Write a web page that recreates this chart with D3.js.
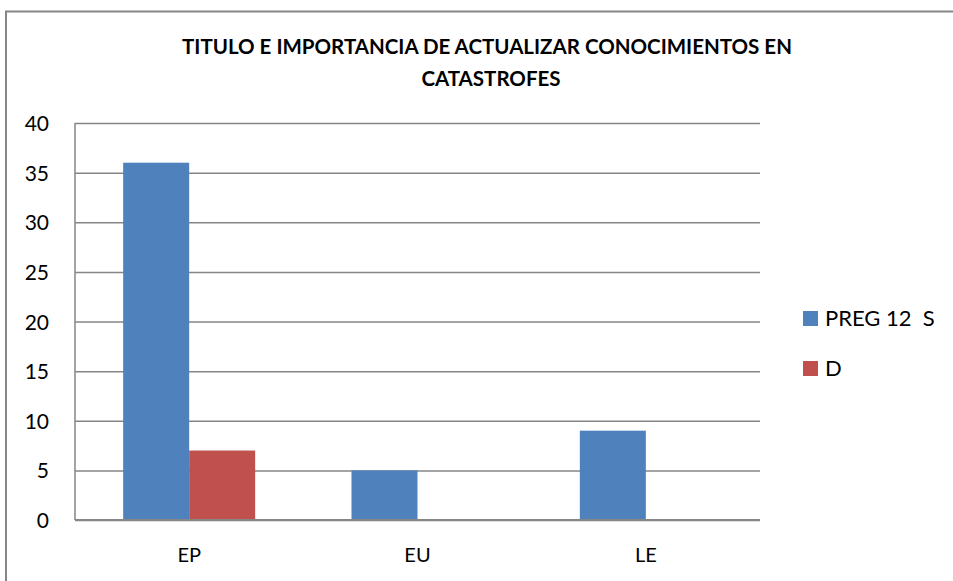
<!DOCTYPE html>
<html>
<head>
<meta charset="utf-8">
<script src="https://cdn.jsdelivr.net/npm/d3@7"></script>
<style>
  body { margin: 0; background: #fff; }
  svg { font-family: Lato, "Open Sans", sans-serif; }
</style>
</head>
<body>
<svg id="chart" width="953" height="581"></svg>
<script>
const categories = ["EP", "EU", "LE"];
const seriesNames = ["PREG 12  S", "D"];
const pregValues = [36, 5, 9];
const dValues = [7, 0, 0];
const yTicks = [0, 5, 10, 15, 20, 25, 30, 35, 40];
const colors = ["#4f81bd", "#c0504d"];

const margin = { top: 123, left: 75 };
const width = 760 - 75, height = 520 - 123;

const svg = d3.select("#chart");

// outer frame
svg.append("path")
  .attr("d", "M6,581 V11.5 H953")
  .attr("fill", "none")
  .attr("stroke", "#868686")
  .attr("stroke-width", 2);

// title
const title = svg.append("text")
  .attr("text-anchor", "middle")
  .attr("font-weight", "bold")
  .attr("font-size", 20.5)
  .attr("fill", "#000");
title.append("tspan").attr("x", 487).attr("y", 54).text("TITULO E IMPORTANCIA DE ACTUALIZAR CONOCIMIENTOS EN");
title.append("tspan").attr("x", 491).attr("y", 86).text("CATASTROFES");

const g = svg.append("g").attr("transform", `translate(${margin.left},${margin.top})`);

const x = d3.scaleBand().domain(categories).range([0, width]);
const y = d3.scaleLinear().domain([0, 40]).range([height, 0]);
const barW = 66;

// gridlines
g.append("g")
  .call(d3.axisLeft(y).tickValues(yTicks).tickSize(-width).tickFormat(""))
  .call(s => s.select(".domain").remove())
  .call(s => s.selectAll("line").attr("stroke", "#868686").attr("stroke-width", 1.5));

// y labels
g.selectAll(".ylab")
  .data(yTicks)
  .enter()
  .append("text")
  .attr("x", -26)
  .attr("y", d => y(d) + 8)
  .attr("text-anchor", "end")
  .attr("font-size", 21)
  .attr("fill", "#000")
  .text(d => d);

// bars
const data = categories.map((c, i) => ({ cat: c, vals: [pregValues[i], dValues[i]] }));
const grp = g.selectAll(".group").data(data).enter().append("g")
  .attr("transform", d => `translate(${x(d.cat) + x.bandwidth() / 2 - barW},0)`);
grp.selectAll("rect")
  .data(d => d.vals)
  .enter()
  .append("rect")
  .attr("x", (d, i) => i * barW)
  .attr("y", d => y(d))
  .attr("width", barW)
  .attr("height", d => height - y(d))
  .attr("fill", (d, i) => colors[i]);

// axes lines
g.append("line").attr("x1", 0).attr("x2", 0).attr("y1", 0).attr("y2", height)
  .attr("stroke", "#868686").attr("stroke-width", 1.5);
g.append("line").attr("x1", 0).attr("x2", width).attr("y1", height).attr("y2", height)
  .attr("stroke", "#868686").attr("stroke-width", 2);

// x labels
g.selectAll(".xlab")
  .data(categories)
  .enter()
  .append("text")
  .attr("x", d => x(d) + x.bandwidth() / 2)
  .attr("y", height + 42)
  .attr("text-anchor", "middle")
  .attr("font-size", 20)
  .attr("fill", "#000")
  .text(d => d);

// legend
const leg = svg.append("g").attr("transform", "translate(803,311)");
seriesNames.forEach((n, i) => {
  leg.append("rect").attr("x", 0).attr("y", i * 50).attr("width", 15).attr("height", 15).attr("fill", colors[i]);
  leg.append("text").attr("x", 22).attr("y", i * 50 + 15).attr("font-size", 22)
    .attr("fill", "#000").style("white-space", "pre").text(n);
});
</script>
</body>
</html>
